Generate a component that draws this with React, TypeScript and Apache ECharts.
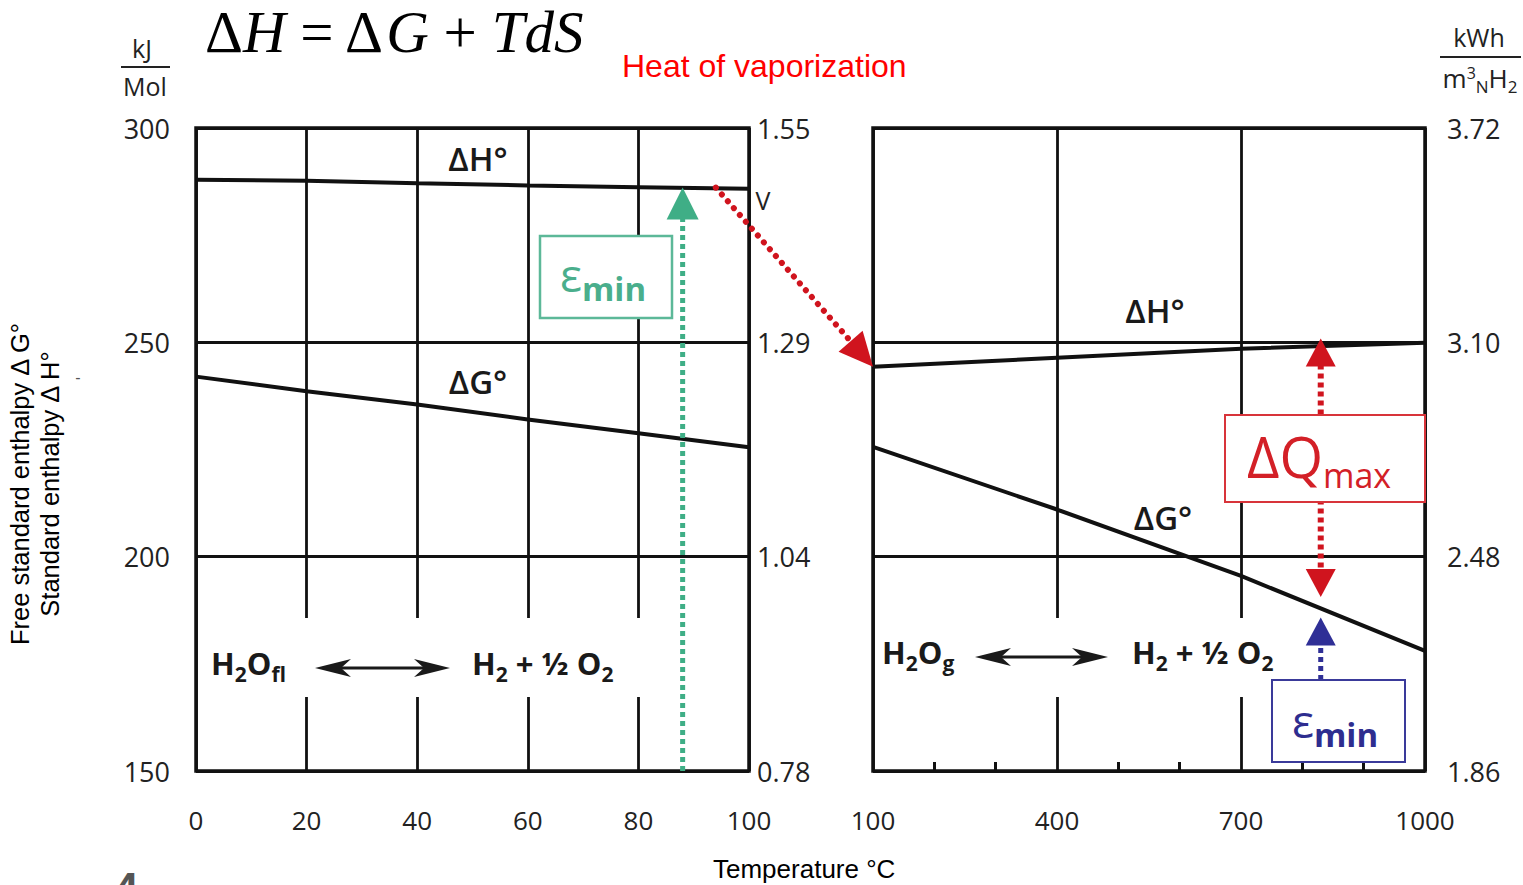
import React, { useEffect, useRef } from 'react';
import * as echarts from 'echarts';

// ---- data ----
const liquidTemps = [0, 20, 40, 60, 80, 100];
const liquidDH = [287.9, 287.7, 287.1, 286.6, 286.2, 285.8];
const liquidDG = [242.0, 238.6, 235.5, 232.0, 228.8, 225.5];

const gasTemps = [100, 400, 700, 1000];
const gasDH = [244.3, 246.4, 248.5, 249.9];
const gasDG = [225.6, 211.0, 195.5, 178.0];

const kjTicks = [150, 200, 250, 300];
const kwhLiquidLabels = ['0.78', '1.04', '1.29', '1.55'];
const kwhGasLabels = ['1.86', '2.48', '3.10', '3.72'];

// annotation anchors (data units)
const vapTemp = 94;
const eminTemp = 88;
const dqTemp = 830;

const FONT = "'Open Sans', 'Noto Sans', sans-serif";
const ARIAL = "'Liberation Sans', Arial, sans-serif";
const SERIF = "'Liberation Serif', 'DejaVu Serif', serif";
const INK = '#111';
const GREEN = '#3fae86';
const RED = '#d0141e';
const BLUE = '#2f2f96';

const zip = (xs: number[], ys: number[]) => xs.map((x, i) => [x, ys[i]]);

function head(tip: number[], dx: number, dy: number, len: number, hw: number) {
  const bx = tip[0] - dx * len;
  const by = tip[1] - dy * len;
  const nx = -dy;
  const ny = dx;
  return [
    [tip[0], tip[1]],
    [bx + nx * hw, by + ny * hw],
    [bx - nx * hw, by - ny * hw],
  ];
}

export default function App() {
  const ref = useRef<HTMLDivElement>(null);
  useEffect(() => {
    const el = ref.current!;
    const chart = echarts.init(el, null, { renderer: 'svg' });

    const mkGrid = (left: number, width: number) => ({
      left, top: 128, width, height: 643, show: true,
      borderColor: INK, borderWidth: 3.5, backgroundColor: 'transparent', containLabel: false,
    });
    const split = { show: true, lineStyle: { color: INK, width: 2.8 } };
    const xLabel = { fontSize: 26, margin: 36, color: '#222', fontFamily: FONT, formatter: (v: number) => String(v) };
    const yLabel = { fontSize: 27, color: '#222', fontFamily: FONT };
    const idx = (v: number) => kjTicks.indexOf(Math.round(v));

    const lineSeries = (x: number, y: number, data: number[][]) => ({
      type: 'line', xAxisIndex: x, yAxisIndex: y, data, symbol: 'none', z: 5,
      lineStyle: { color: INK, width: 4 }, silent: true,
    });

    chart.setOption({
      animation: false,
      backgroundColor: '#fff',
      grid: [mkGrid(196, 553), mkGrid(873, 552)],
      xAxis: [
        {
          type: 'value', gridIndex: 0, min: 0, max: 100, interval: 20,
          axisLine: { show: false }, axisTick: { show: false }, splitLine: split, axisLabel: xLabel,
        },
        {
          type: 'value', gridIndex: 1, min: 100, max: 1000, interval: 300,
          axisLine: { show: false }, axisTick: { show: false, inside: true },
          minorTick: { show: true, splitNumber: 3, length: 9, lineStyle: { color: INK, width: 3 } },
          splitLine: split, axisLabel: xLabel,
        },
      ],
      yAxis: [
        {
          type: 'value', gridIndex: 0, position: 'left', min: 150, max: 300, interval: 50,
          axisLine: { show: false }, axisTick: { show: false }, splitLine: split,
          axisLabel: { ...yLabel, margin: 26 },
        },
        {
          type: 'value', gridIndex: 0, position: 'right', min: 150, max: 300, interval: 50,
          axisLine: { show: false }, axisTick: { show: false }, splitLine: { show: false },
          axisLabel: { ...yLabel, margin: 8, formatter: (v: number) => kwhLiquidLabels[idx(v)] ?? '' },
        },
        {
          type: 'value', gridIndex: 1, position: 'left', min: 150, max: 300, interval: 50,
          axisLine: { show: false }, axisTick: { show: false }, splitLine: split,
          axisLabel: { show: false },
        },
        {
          type: 'value', gridIndex: 1, position: 'right', min: 150, max: 300, interval: 50,
          axisLine: { show: false }, axisTick: { show: false }, splitLine: { show: false },
          axisLabel: { ...yLabel, margin: 22, formatter: (v: number) => kwhGasLabels[idx(v)] ?? '' },
        },
      ],
      series: [
        lineSeries(0, 0, zip(liquidTemps, liquidDH)),
        lineSeries(0, 0, zip(liquidTemps, liquidDG)),
        lineSeries(1, 2, zip(gasTemps, gasDH)),
        lineSeries(1, 2, zip(gasTemps, gasDG)),
      ],
    });

    const p0 = (x: number, y: number) => chart.convertToPixel({ xAxisIndex: 0, yAxisIndex: 0 }, [x, y]) as number[];
    const p1 = (x: number, y: number) => chart.convertToPixel({ xAxisIndex: 1, yAxisIndex: 2 }, [x, y]) as number[];

    const chemB = { fontSize: 31, fontWeight: 700, fontFamily: FONT, fill: '#1a1a1a', padding: [0, 0, 6, 0], verticalAlign: 'bottom' };
    const chemS = { fontSize: 21, fontWeight: 700, fontFamily: FONT, fill: '#1a1a1a', verticalAlign: 'bottom' };

    const txt = (x: number, y: number, text: string, style: any, extra: any = {}) => ({
      type: 'text', x, y, z: 20, ...extra,
      style: { text, align: 'left', verticalAlign: 'middle', ...style },
    });

    const sym = (fill: string) => ({
      e: { fontSize: 46, fontFamily: FONT, fill, padding: [0, 0, 8, 0], verticalAlign: 'bottom' },
      m: { fontSize: 33, fontWeight: 700, fontFamily: FONT, fill, verticalAlign: 'bottom' },
    });

    const dbl = (x1: number, x2: number, y: number) => [
      { type: 'line', z: 20, shape: { x1: x1 + 20, y1: y, x2: x2 - 20, y2: y }, style: { stroke: '#1a1a1a', lineWidth: 3 } },
      { type: 'polygon', z: 20, shape: { points: [[x1, y], [x1 + 36, y - 9], [x1 + 26, y], [x1 + 36, y + 9]] }, style: { fill: '#1a1a1a' } },
      { type: 'polygon', z: 20, shape: { points: [[x2, y], [x2 - 36, y - 9], [x2 - 26, y], [x2 - 36, y + 9]] }, style: { fill: '#1a1a1a' } },
    ];

    const label = { fontSize: 33, fontWeight: 600, fontFamily: FONT, fill: '#1a1a1a', align: 'center' };

    // arrows from data anchors
    const gTip = p0(eminTemp, 286.1);
    const gBase = p0(eminTemp, 150);
    const vStart = p0(vapTemp, 286.1);
    const vTip = p1(100, 244.3);
    const vdx = vTip[0] - vStart[0];
    const vdy = vTip[1] - vStart[1];
    const vl = Math.hypot(vdx, vdy);
    const ux = vdx / vl;
    const uy = vdy / vl;
    const qTop = p1(dqTemp, 250.9);
    const qBot = p1(dqTemp, 190.6);
    const bTip = p1(dqTemp, 185.8);

    const graphic: any[] = [
      // white gaps in the grid behind the reaction labels
      { type: 'rect', z: 1, shape: { x: 199, y: 618, width: 546, height: 79 }, style: { fill: '#fff' } },
      { type: 'rect', z: 1, shape: { x: 876, y: 618, width: 414, height: 79 }, style: { fill: '#fff' } },

      // title formula
      txt(205, 32, '{d|Δ}{i|H}{d| = Δ}{i|G}{d| + }{i|TdS}', {
        rich: {
          d: { fontSize: 59, fontFamily: SERIF, fill: '#000' },
          i: { fontSize: 59, fontFamily: SERIF, fontStyle: 'italic', fill: '#000' },
        },
      }),
      txt(622, 66, 'Heat of vaporization', { fontSize: 32, fontFamily: ARIAL, fill: '#ff0000' }),

      // units
      txt(142, 48, 'kJ', { fontSize: 25, fontFamily: FONT, fill: '#222', align: 'center' }),
      { type: 'line', z: 20, shape: { x1: 121, y1: 67, x2: 170, y2: 67 }, style: { stroke: '#222', lineWidth: 2 } },
      txt(145, 86, 'Mol', { fontSize: 25, fontFamily: FONT, fill: '#222', align: 'center' }),
      txt(1479, 37, 'kWh', { fontSize: 25, fontFamily: FONT, fill: '#222', align: 'center' }),
      { type: 'line', z: 20, shape: { x1: 1440, y1: 57, x2: 1521, y2: 57 }, style: { stroke: '#222', lineWidth: 2 } },
      txt(1480, 80, '{a|m}{p|3}{n|N}{a|H}{n|2}', {
        align: 'center',
        rich: {
          a: { fontSize: 26, fontFamily: FONT, fill: '#222', padding: [0, 0, 4, 0], verticalAlign: 'bottom' },
          p: { fontSize: 16, fontFamily: FONT, fill: '#222', verticalAlign: 'top' },
          n: { fontSize: 17, fontFamily: FONT, fill: '#222', verticalAlign: 'bottom' },
        },
      }),

      // axis titles
      txt(20, 484, 'Free standard enthalpy Δ G°', { fontSize: 25.5, fontFamily: ARIAL, fill: '#000', align: 'center' }, { rotation: Math.PI / 2 }),
      txt(50, 484, 'Standard enthalpy Δ H°', { fontSize: 25.5, fontFamily: ARIAL, fill: '#000', align: 'center' }, { rotation: Math.PI / 2 }),
      txt(78, 377, '-', { fontSize: 16, fontFamily: ARIAL, fill: '#555', align: 'center' }),
      txt(713, 869, 'Temperature °C', { fontSize: 26, fontFamily: ARIAL, fill: '#000' }),
      txt(114, 866, '4', { fontSize: 44, fontWeight: 700, fontFamily: ARIAL, fill: '#555', verticalAlign: 'top' }),

      // curve labels
      txt(478, 158, 'ΔH°', label),
      txt(478, 381, 'ΔG°', label),
      txt(1155, 310, 'ΔH°', label),
      txt(1163, 517, 'ΔG°', label),
      txt(763, 200, 'V', { fontSize: 25, fontFamily: FONT, fill: '#222', align: 'center' }),

      // reactions
      txt(211, 666, '{b|H}{s|2}{b|O}{s|fl}', { rich: { b: chemB, s: chemS } }),
      ...dbl(315, 450, 668),
      txt(472, 666, '{b|H}{s|2}{b| + ½ O}{s|2}', { rich: { b: chemB, s: chemS } }),
      txt(882, 655, '{b|H}{s|2}{b|O}{s|g}', { rich: { b: chemB, s: chemS } }),
      ...dbl(975, 1108, 657),
      txt(1132, 655, '{b|H}{s|2}{b| + ½ O}{s|2}', { rich: { b: chemB, s: chemS } }),

      // green emin arrow
      {
        type: 'line', z: 12,
        shape: { x1: gBase[0], y1: gBase[1], x2: gTip[0], y2: gTip[1] + 28 },
        style: { stroke: GREEN, lineWidth: 5, lineDash: [5, 4] },
      },
      { type: 'polygon', z: 12, shape: { points: head(gTip, 0, -1, 32, 16) }, style: { fill: GREEN } },
      { type: 'rect', z: 14, shape: { x: 540, y: 236, width: 132, height: 82 }, style: { fill: '#fff', stroke: '#5cb898', lineWidth: 2.5 } },
      txt(560, 278, '{e|ε}{m|min}', { rich: sym('#4aae8c') }),

      // red vaporization arrow
      {
        type: 'line', z: 12,
        shape: { x1: vStart[0], y1: vStart[1], x2: vTip[0] - ux * 28, y2: vTip[1] - uy * 28 },
        style: { stroke: RED, lineWidth: 6, lineDash: [0.1, 9], lineCap: 'round' },
      },
      { type: 'polygon', z: 12, shape: { points: head(vTip, ux, uy, 34, 16) }, style: { fill: RED } },

      // dQmax double arrow
      {
        type: 'line', z: 12,
        shape: { x1: qTop[0], y1: qTop[1] + 26, x2: qBot[0], y2: qBot[1] - 26 },
        style: { stroke: RED, lineWidth: 6, lineDash: [5, 4] },
      },
      { type: 'polygon', z: 12, shape: { points: head(qTop, 0, -1, 28, 15) }, style: { fill: RED } },
      { type: 'polygon', z: 12, shape: { points: head(qBot, 0, 1, 28, 15) }, style: { fill: RED } },
      { type: 'rect', z: 14, shape: { x: 1225, y: 415, width: 200, height: 87 }, style: { fill: '#fff', stroke: '#d8343a', lineWidth: 2 } },
      txt(1247, 460, '{q|ΔQ}{m|max}', {
        rich: {
          q: { fontSize: 56, fontFamily: FONT, fill: '#d32027', padding: [0, 0, 8, 0], verticalAlign: 'bottom' },
          m: { fontSize: 34, fontFamily: FONT, fill: '#d32027', verticalAlign: 'bottom' },
        },
      }),

      // blue emin arrow
      {
        type: 'line', z: 12,
        shape: { x1: bTip[0], y1: 680, x2: bTip[0], y2: bTip[1] + 26 },
        style: { stroke: BLUE, lineWidth: 5, lineDash: [5, 4] },
      },
      { type: 'polygon', z: 12, shape: { points: head(bTip, 0, -1, 28, 15) }, style: { fill: BLUE } },
      { type: 'rect', z: 14, shape: { x: 1272, y: 680, width: 133, height: 82 }, style: { fill: '#fff', stroke: '#3a3a9a', lineWidth: 2 } },
      txt(1292, 724, '{e|ε}{m|min}', { rich: sym('#2e2d8f') }),
    ];

    chart.setOption({ graphic });
    return () => chart.dispose();
  }, []);

  return (
    <div
      ref={ref}
      style={{ position: 'fixed', left: 0, top: 0, width: 1523, height: 885, background: '#fff' }}
    />
  );
}
